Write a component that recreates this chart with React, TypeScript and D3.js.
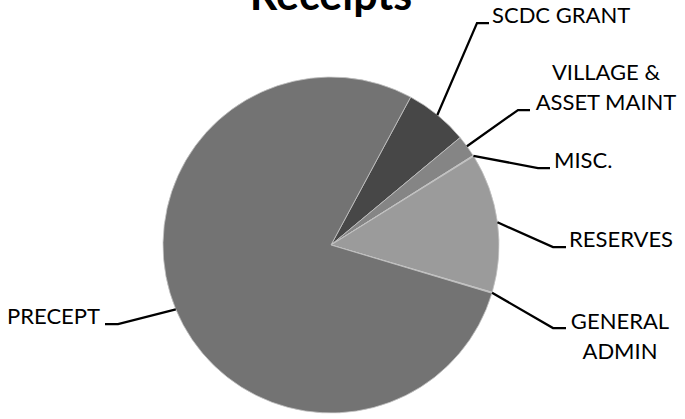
import * as d3 from 'd3';
import { useEffect, useRef } from 'react';

// slices, clockwise starting at the SCDC GRANT edge
const categories = ['SCDC GRANT', 'VILLAGE & ASSET MAINT', 'MISC.', 'RESERVES', 'GENERAL ADMIN', 'PRECEPT'];
const values = [6.1, 2.1, 0.1, 13.4, 0.1, 78.3];
const colors = ['#474747', '#858585', '#bcbcbc', '#9b9b9b', '#bcbcbc', '#737373'];
const labelLines = [['SCDC GRANT'], ['VILLAGE &', 'ASSET MAINT'], ['MISC.'], ['RESERVES'], ['GENERAL', 'ADMIN'], ['PRECEPT']];
const title = 'Receipts';

// label placement: elbow point, end of leader, text anchor point
const labelLayout = [
    { elbow: [477, 23], end: [489, 23], tx: 492, ty: 23, anchor: 'start' },
    { elbow: [518, 110], end: [530, 110], tx: 606, ty: 80, anchor: 'middle' },
    { elbow: [538, 168], end: [550, 168], tx: 554, ty: 168, anchor: 'start' },
    { elbow: [553, 247], end: [566, 247], tx: 569, ty: 247, anchor: 'start' },
    { elbow: [553, 328], end: [566, 328], tx: 620, ty: 329, anchor: 'middle' },
    { elbow: [118, 324], end: [105, 324], tx: 100, ty: 324, anchor: 'end' },
];

export default function App() {
    const ref = useRef<SVGSVGElement>(null);

    useEffect(() => {
        const width = 685;
        const height = 419;
        const cx = 331;
        const cy = 245;
        const r = 168;
        const start = 28.3 * Math.PI / 180;

        const svg = d3.select(ref.current!);
        svg.selectAll('*').remove();
        svg.attr('width', width).attr('height', height).attr('viewBox', [0, 0, width, height].join(' '));

        const font = 'Lato, "Open Sans", sans-serif';

        const pie = d3.pie<number>().sort(null).startAngle(start).endAngle(start + 2 * Math.PI);
        const arcs = pie(values);
        const arc = d3.arc<d3.PieArcDatum<number>>().innerRadius(0).outerRadius(r);

        const g = svg.append('g').attr('transform', `translate(${cx},${cy})`);
        g.selectAll('path')
            .data(arcs)
            .join('path')
            .attr('d', arc)
            .attr('fill', (_, i) => colors[i])
            .attr('stroke', '#c4c4c4')
            .attr('stroke-width', 0.8);

        // leader lines
        arcs.forEach((a, i) => {
            const mid = (a.startAngle + a.endAngle) / 2;
            const sx = cx + r * Math.sin(mid);
            const sy = cy - r * Math.cos(mid);
            const l = labelLayout[i];
            svg.append('polyline')
                .attr('points', `${sx},${sy} ${l.elbow[0]},${l.elbow[1]} ${l.end[0]},${l.end[1]}`)
                .attr('fill', 'none')
                .attr('stroke', '#000')
                .attr('stroke-width', 2.25);

            const t = svg.append('text')
                .attr('x', l.tx)
                .attr('y', l.ty)
                .attr('text-anchor', l.anchor)
                .attr('font-family', font)
                .attr('font-size', 22)
                .attr('fill', '#000');
            labelLines[i].forEach((line, j) => {
                t.append('tspan').attr('x', l.tx).attr('dy', j === 0 ? 0 : 30).text(line);
            });
            t.attr('aria-label', categories[i]);
        });

        svg.append('text')
            .attr('x', cx)
            .attr('y', 10)
            .attr('text-anchor', 'middle')
            .attr('font-family', font)
            .attr('font-weight', 'bold')
            .attr('font-size', 43)
            .attr('fill', '#000')
            .text(title);
    }, []);

    return <svg ref={ref} style={{ position: 'absolute', left: 0, top: 0, background: '#fff' }} />;
}
